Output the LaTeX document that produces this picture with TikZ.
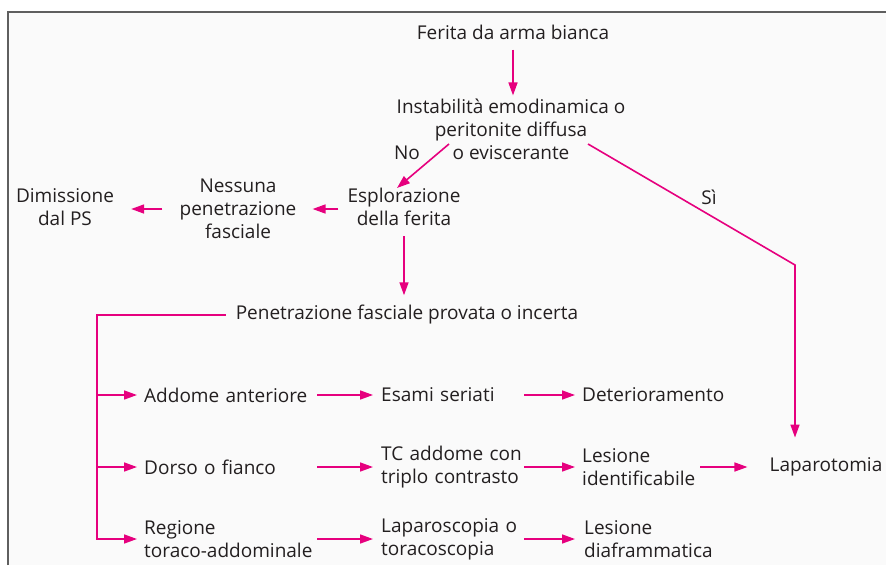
\documentclass[tikz,border=0pt]{standalone}
\usepackage{fontspec}
\setmainfont{Open Sans}
\usepackage{xcolor}
\usetikzlibrary{arrows.meta,positioning,calc}
\definecolor{arrowpink}{HTML}{E6007E}
\definecolor{ink}{HTML}{231F20}
\definecolor{paper}{HTML}{FAFAFA}
\definecolor{framegray}{HTML}{5F5F5F}

\begin{document}
\begin{tikzpicture}[
  x=1pt, y=-1pt,
  font=\fontsize{19}{23}\selectfont, >={Triangle[length=13pt,width=9pt]},
  txt/.style={inner sep=0pt, align=center, text=ink},
  col/.style={txt, anchor=west, align=left},
  lbl/.style={txt},
  link/.style={->, draw=arrowpink, line width=1.6pt, shorten >=7pt},
]
\useasboundingbox (0,0) rectangle (886,565);
\fill[white] (0,0) rectangle (886,565);
\fill[paper] (7.5,12) rectangle (886,565);
\draw[framegray, line width=2pt] (7.5,565) -- (7.5,12) -- (886,12);

\node[txt] (ferita) at (513,32) {Ferita da arma bianca};
\node[txt] (instab) at (511,129) {Instabilità emodinamica o\\ peritonite diffusa\\ o eviscerante};
\node[txt] (expl) at (404,207) {Esplorazione\\ della ferita};
\node[txt] (nessuna) at (238,209) {Nessuna\\ penetrazione\\ fasciale};
\node[txt] (dimis) at (65,207) {Dimissione\\ dal PS};
\node[txt] (penetr) at (407,315) {Penetrazione fasciale provata o incerta};

\node[col, text width=173pt] (addome) at (144,395) {Addome anteriore};
\node[col, text width=173pt] (dorso) at (144,467) {Dorso o fianco};
\node[col, text width=173pt] (regione) at (144,539) {Regione\\ toraco-addominale};
\node[col, text width=143pt] (esami) at (381,395) {Esami seriati};
\node[col, text width=143pt] (tc) at (381,467) {TC addome con\\ triplo contrasto};
\node[col, text width=143pt] (lapsc) at (381,539) {Laparoscopia o\\ toracoscopia};
\node[col, text width=118pt] (deter) at (582,395) {Deterioramento};
\node[col, text width=118pt] (lesid) at (582,467) {Lesione\\ identificabile};
\node[col, text width=132pt] (lesdia) at (584,539) {Lesione\\ diaframmatica};
\node[txt] (laparo) at (826,467) {Laparotomia};

\node[lbl] (no) at (407,153) {No};
\node[lbl] (si) at (709,197) {Sì};
\coordinate (bus) at (97,315);
\coordinate (bend) at (795,265);

\draw[link, shorten <=10pt, shorten >=3pt] (ferita.south) -- (ferita.south |- instab.north);
\draw[link, shorten >=0pt] ($(instab.center)+(-62,15)$) -- ($(expl.north)+(-7,0)$);
\draw[link, shorten >=20pt] ($(instab.center)+(77,15)$) -- (bend) -- (bend |- laparo.north);
\draw[link, shorten <=9pt, shorten >=16pt] (expl.west |- nessuna.east) -- (nessuna.east);
\draw[link, shorten <=17pt, shorten >=17pt] (nessuna.west) -- (nessuna.west -| dimis.east);
\draw[link, shorten <=10pt, shorten >=10pt] (expl.south) -- (expl.south |- penetr.north);

\draw[link, shorten <=10pt] (penetr.west) -- (bus) |- (regione.west);
\draw[link] (bus |- addome.west) -- (addome.west);
\draw[link] (bus |- dorso.west) -- (dorso.west);
\draw[link, shorten >=8pt] (addome.east) -- (esami.west);
\draw[link, shorten >=8pt] (dorso.east) -- (tc.west);
\draw[link, shorten >=8pt] (regione.east) -- (lapsc.west);
\draw[link] (esami.east) -- (deter.west);
\draw[link] (tc.east) -- (lesid.west);
\draw[link, shorten >=9pt] (lapsc.east) -- (lesdia.west |- lapsc.east);
\draw[link, shorten >=22pt] (lesid.east) -- (laparo.west |- lesid.east);
\end{tikzpicture}
\end{document}
